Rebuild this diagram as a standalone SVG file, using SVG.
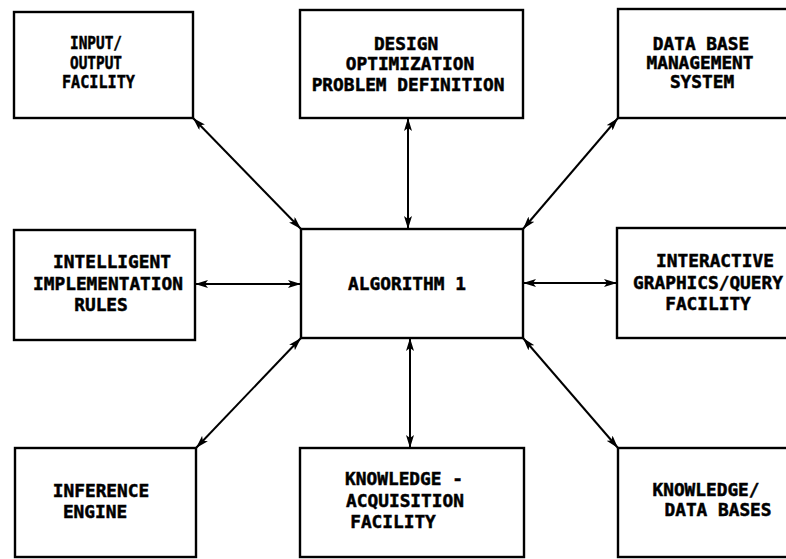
<svg xmlns="http://www.w3.org/2000/svg" width="786" height="559" viewBox="0 0 786 559">
  <style>
    .box { fill: #ffffff; stroke: #000000; stroke-width: 2.4; }
    .lbl { font-family: "DejaVu Sans Mono", "Liberation Mono", monospace; font-weight: bold; font-size: 17.8px; fill: #000000; stroke: #000000; stroke-width: 0.5; text-anchor: middle; }
    .link { stroke: #000000; stroke-width: 2; fill: none; marker-start: url(#head); marker-end: url(#head); }
  </style>
  <defs>
    <marker id="head" viewBox="0 0 13 8" refX="13" refY="4" markerWidth="13" markerHeight="8" markerUnits="userSpaceOnUse" orient="auto-start-reverse">
      <path d="M0,0 L13,4 L0,8 L3,4 Z" fill="#000000"/>
    </marker>
  </defs>
  <rect width="786" height="559" fill="#ffffff"/>

  <g id="connectors">
    <line class="link" x1="193" y1="118" x2="301" y2="229"/>
    <line class="link" x1="408" y1="118" x2="408" y2="229"/>
    <line class="link" x1="618" y1="118" x2="523" y2="229"/>
    <line class="link" x1="195" y1="284" x2="301" y2="284"/>
    <line class="link" x1="523" y1="283" x2="617" y2="283"/>
    <line class="link" x1="196" y1="448" x2="301" y2="338"/>
    <line class="link" x1="410" y1="338" x2="410" y2="448"/>
    <line class="link" x1="523" y1="338" x2="618" y2="448"/>
  </g>

  <g id="input-output">
    <rect class="box" x="14" y="12" width="179" height="106"/>
    <text class="lbl" x="96" y="49" textLength="52" lengthAdjust="spacingAndGlyphs">INPUT/</text>
    <text class="lbl" x="96" y="69" textLength="52" lengthAdjust="spacingAndGlyphs">OUTPUT</text>
    <text class="lbl" x="98.5" y="88" textLength="73" lengthAdjust="spacingAndGlyphs">FACILITY</text>
  </g>

  <g id="design-optimization">
    <rect class="box" x="300" y="10" width="223" height="108"/>
    <text class="lbl" x="406" y="50">DESIGN</text>
    <text class="lbl" x="410" y="70">OPTIMIZATION</text>
    <text class="lbl" x="408" y="91">PROBLEM DEFINITION</text>
  </g>

  <g id="dbms">
    <rect class="box" x="618" y="9" width="180" height="109"/>
    <text class="lbl" x="701" y="50">DATA BASE</text>
    <text class="lbl" x="700" y="69">MANAGEMENT</text>
    <text class="lbl" x="702" y="88">SYSTEM</text>
  </g>

  <g id="implementation-rules">
    <rect class="box" x="14" y="230" width="181" height="110"/>
    <text class="lbl" x="112" y="268">INTELLIGENT</text>
    <text class="lbl" x="108" y="290">IMPLEMENTATION</text>
    <text class="lbl" x="101" y="311">RULES</text>
  </g>

  <g id="algorithm">
    <rect class="box" x="301" y="229" width="222" height="109"/>
    <text class="lbl" x="407" y="290">ALGORITHM 1</text>
  </g>

  <g id="graphics-query">
    <rect class="box" x="617" y="228" width="181" height="110"/>
    <text class="lbl" x="715" y="267">INTERACTIVE</text>
    <text class="lbl" x="708" y="289">GRAPHICS/QUERY</text>
    <text class="lbl" x="708" y="310">FACILITY</text>
  </g>

  <g id="inference-engine">
    <rect class="box" x="15" y="448" width="181" height="109"/>
    <text class="lbl" x="101" y="497">INFERENCE</text>
    <text class="lbl" x="95" y="518">ENGINE</text>
  </g>

  <g id="knowledge-acquisition">
    <rect class="box" x="300" y="448" width="224" height="109"/>
    <text class="lbl" x="404" y="485">KNOWLEDGE -</text>
    <text class="lbl" x="405" y="507">ACQUISITION</text>
    <text class="lbl" x="393" y="528">FACILITY</text>
  </g>

  <g id="knowledge-data-bases">
    <rect class="box" x="618" y="448" width="180" height="109"/>
    <text class="lbl" x="706" y="496">KNOWLEDGE/</text>
    <text class="lbl" x="718" y="516">DATA BASES</text>
  </g>
</svg>
